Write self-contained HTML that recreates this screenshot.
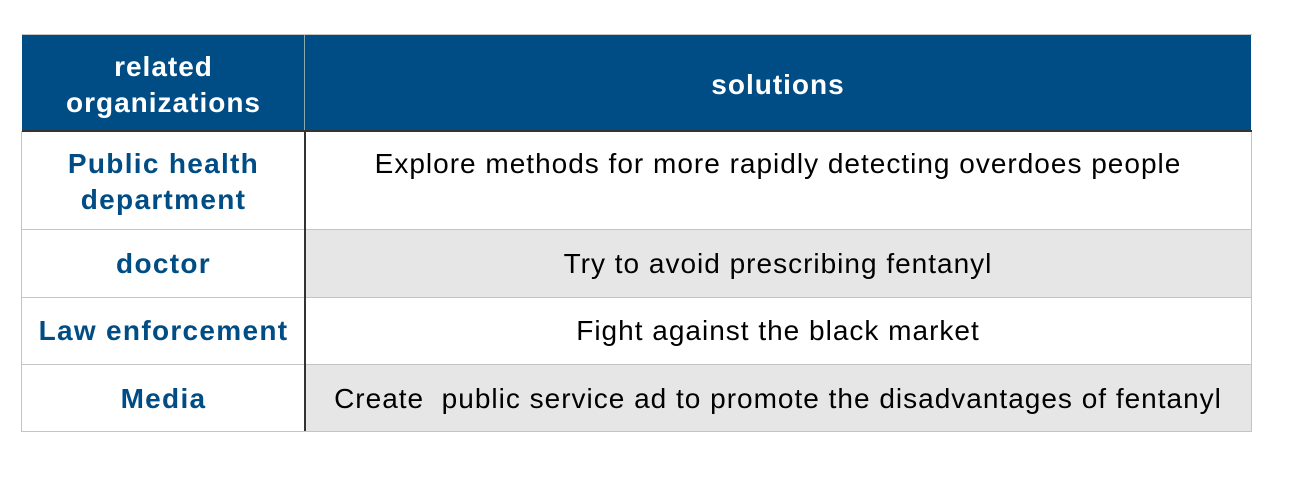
<!DOCTYPE html>
<html><head><meta charset="utf-8"><style>
body{margin:0;width:1289px;height:497px;background:#fff;position:relative;overflow:hidden;font-family:"Liberation Sans",Arial,sans-serif}
.c{position:absolute;box-sizing:border-box;text-align:center;font-size:28px;line-height:36px;letter-spacing:1px;white-space:nowrap}
.h{background:#004c84;color:#fff;font-weight:bold;display:flex;align-items:center;justify-content:center;letter-spacing:1px;padding-top:3px}
.o{color:#004c84;font-weight:bold;letter-spacing:1.3px}
.g{background:#e6e6e6}
.hl{position:absolute;height:1px;background:#c4c4c4}
.vl{position:absolute;width:1px;background:#c4c4c4}
</style></head><body>
<div>
<div class="c h" style="left:22px;top:35px;width:283px;height:96px">related<br>organizations</div>
<div class="c h" style="left:305px;top:35px;width:946px;height:96px">solutions</div>
<div class="vl" style="left:304px;top:35px;height:96px;background:#8aa"></div>

<div class="c o" style="left:22px;top:146px;width:283px">Public health<br>department</div>
<div class="c" style="left:305px;top:146px;width:946px">Explore methods for more rapidly detecting overdoes people</div>

<div class="c g" style="left:305px;top:229px;width:946px;height:68px"></div>
<div class="c o" style="left:22px;top:246px;width:283px">doctor</div>
<div class="c" style="left:305px;top:246px;width:946px">Try to avoid prescribing fentanyl</div>

<div class="c o" style="left:22px;top:313px;width:283px">Law enforcement</div>
<div class="c" style="left:305px;top:313px;width:946px">Fight against the black market</div>

<div class="c g" style="left:305px;top:364px;width:946px;height:67px"></div>
<div class="c o" style="left:22px;top:381px;width:283px">Media</div>
<div class="c" style="left:305px;top:381px;width:946px">Create&nbsp; public service ad to promote the disadvantages of fentanyl</div>

<div class="hl" style="left:22px;top:34px;width:1230px"></div>
<div class="hl" style="left:22px;top:229px;width:1230px"></div>
<div class="hl" style="left:22px;top:297px;width:1230px"></div>
<div class="hl" style="left:22px;top:364px;width:1230px"></div>
<div class="hl" style="left:22px;top:431px;width:1230px"></div>
<div class="vl" style="left:21px;top:131px;height:301px"></div>
<div class="vl" style="left:1251px;top:131px;height:301px"></div>
<div style="position:absolute;left:22px;top:130px;width:1230px;height:2px;background:#333"></div>
<div style="position:absolute;left:304px;top:131px;width:2px;height:300px;background:#333"></div>
</div>
</body></html>
